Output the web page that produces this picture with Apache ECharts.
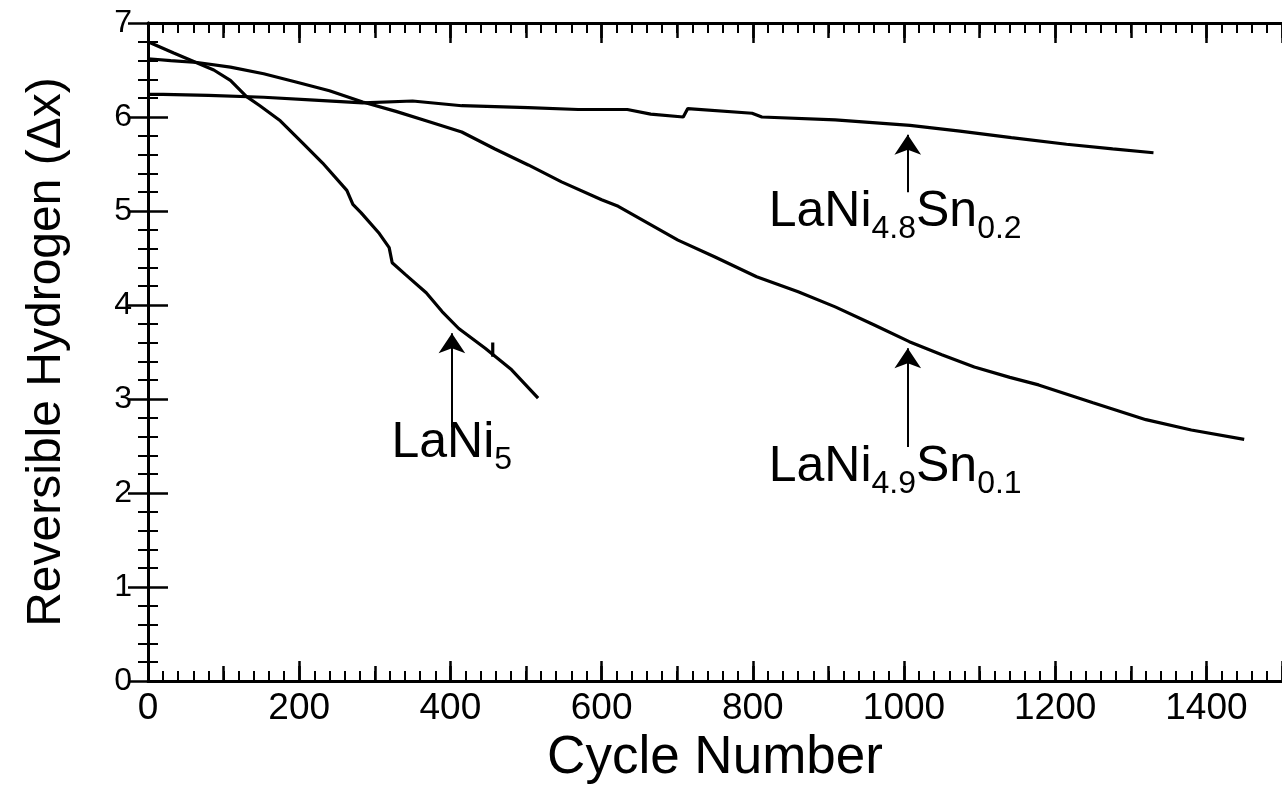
<!DOCTYPE html>
<html><head><meta charset="utf-8">
<script src="https://cdn.jsdelivr.net/npm/echarts@6/dist/echarts.min.js"></script>
<style>html,body{margin:0;padding:0;background:#fff}#c{width:1282px;height:791px}</style>
</head><body><div id="c"></div>
<script>
// Data: [cycle number, reversible hydrogen Δx]
const laNi5 = [[0,6.80],[6,6.78],[34,6.68],[87,6.50],[109,6.39],[130,6.22],[148,6.12],[175,5.96],[205,5.72],[231,5.51],[263,5.22],[271,5.07],[282,4.98],[306,4.76],[319,4.61],[323,4.45],[341,4.32],[368,4.13],[389,3.93],[411,3.75],[446,3.54],[481,3.31],[516,3.01]];
const laNi5Blip = [[456,3.45],[456,3.60]];
const laNi49Sn01 = [[0,6.62],[30,6.60],[65,6.58],[109,6.53],[153,6.46],[197,6.37],[240,6.28],[284,6.16],[328,6.06],[372,5.95],[415,5.84],[459,5.66],[503,5.49],[547,5.31],[600,5.12],[622,5.05],[701,4.69],[750,4.51],[805,4.30],[860,4.14],[909,3.98],[960,3.79],[1007,3.61],[1050,3.47],[1093,3.34],[1140,3.23],[1178,3.15],[1250,2.96],[1320,2.78],[1380,2.67],[1450,2.57]];
const laNi48Sn02 = [[0,6.24],[20,6.24],[80,6.23],[153,6.21],[220,6.18],[284,6.15],[350,6.17],[415,6.12],[503,6.10],[569,6.08],[634,6.08],[665,6.03],[708,6.00],[714,6.09],[799,6.04],[812,6.00],[909,5.97],[1008,5.91],[1074,5.85],[1142,5.78],[1215,5.71],[1276,5.66],[1330,5.62]];

// Annotation arrows: [x, yFrom, yTo(tip)]
const arrows = [[402,2.70,3.70],[1005,5.20,5.81],[1005,2.49,3.54]];
// Annotation labels: [x (left edge), y (anchor), rich text]
const labels = [
  [322,2.49,'{m|LaNi}{s|5}'],
  [821,4.94,'{m|LaNi}{s|4.8}{m|Sn}{s|0.2}'],
  [821,2.23,'{m|LaNi}{s|4.9}{m|Sn}{s|0.1}']
];

const xMin = 0, xMax = 1500, xMajor = 200, xMid = 100;
const yMin = 0, yMax = 7, yMajor = 1;

const FONT = 'Liberation Sans, Arial, Helvetica, sans-serif';
const K = '#000';

function xAx(pos, interval, len, minor, labelled) {
  return {
    type:'value', min:xMin, max:xMax, interval:interval, position:pos,
    axisLine:{show:labelled, lineStyle:{color:K,width:3}},
    axisTick:{show:true, inside:true, length:len, lineStyle:{color:K,width:2.5}},
    minorTick:{show:minor, splitNumber:10, length:10, lineStyle:{color:K,width:2}},
    axisLabel:{show:labelled && pos==='bottom', fontSize:37, color:K, fontFamily:FONT, margin:9,
      formatter:v => String(v)},
    splitLine:{show:false}, minorSplitLine:{show:false}
  };
}
function yAx(pos, labelled) {
  return {
    type:'value', min:yMin, max:yMax, interval:yMajor, position:pos,
    axisLine:{show:true, lineStyle:{color:K,width:3}},
    axisTick:{show:true, inside:true, length:20, lineStyle:{color:K,width:2.5}},
    minorTick:{show:true, splitNumber:5, length:10, lineStyle:{color:K,width:2}},
    axisLabel:{show:labelled, fontSize:32, color:K, fontFamily:FONT, margin:16},
    splitLine:{show:false}, minorSplitLine:{show:false}
  };
}

const xAxes = [
  Object.assign(xAx('bottom', xMajor, 20, true, true), {name:'Cycle Number', nameLocation:'middle', nameGap:46,
    nameTextStyle:{fontSize:53, color:K, fontFamily:FONT}}),
  xAx('bottom', xMid, 15, false, false),
  xAx('top', xMajor, 20, true, true),
  xAx('top', xMid, 15, false, false)
];
const yAxes = [
  Object.assign(yAx('left', true), {name:'Reversible Hydrogen (\u0394x)', nameLocation:'middle', nameGap:77,
    nameTextStyle:{fontSize:48, color:K, fontFamily:FONT}}),
  yAx('right', false)
];

const curve = (name, data) => ({
  name, type:'line', data, xAxisIndex:0, yAxisIndex:0, showSymbol:false, symbol:'none',
  lineStyle:{color:K, width:3.2}, smooth:false, z:3
});

const series = [
  curve('LaNi5', laNi5),
  curve('LaNi5 mark', laNi5Blip),
  curve('LaNi4.9Sn0.1', laNi49Sn01),
  curve('LaNi4.8Sn0.2', laNi48Sn02),
  {
    type:'lines', coordinateSystem:'cartesian2d', xAxisIndex:0, yAxisIndex:0,
    symbol:['none','arrow'], symbolSize:[11,20],
    lineStyle:{color:K, width:2, opacity:1},
    data: arrows.map(a => ({coords:[[a[0],a[1]],[a[0],a[2]]]})), z:4
  },
  {
    type:'scatter', xAxisIndex:0, yAxisIndex:0, symbolSize:0,
    itemStyle:{opacity:1, color:K},
    data: labels.map(l => ({value:[l[0],l[1]], label:{formatter:l[2]}})),
    label:{show:true, position:'right', distance:0, color:K, opacity:1,
      rich:{
        m:{fontSize:50, fontFamily:FONT, color:K, lineHeight:50, verticalAlign:'top'},
        s:{fontSize:32, fontFamily:FONT, color:K, lineHeight:58, verticalAlign:'bottom'}
      }},
    z:5
  }
];

const chart = echarts.init(document.getElementById('c'), null, {renderer:'canvas'});
chart.setOption({
  backgroundColor:'#fff',
  animation:false,
  grid:{left:148, top:23, width:1142, height:658, containLabel:false},
  xAxis:xAxes, yAxis:yAxes, series
});
</script></body></html>
